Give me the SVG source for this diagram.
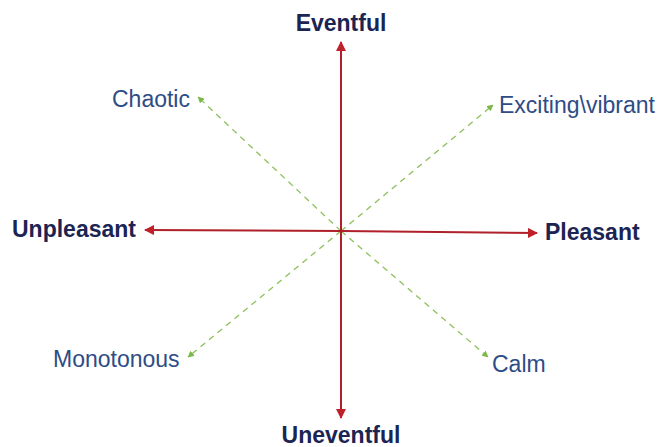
<svg xmlns="http://www.w3.org/2000/svg" width="659" height="447" viewBox="0 0 659 447">
<style>
.axis{stroke:#b0202a;stroke-width:2;fill:none}
.diag{stroke:#8cc05a;stroke-width:1.3;stroke-dasharray:6,5;fill:none}
.b{font-family:"Liberation Sans",Arial,sans-serif;font-weight:bold;font-size:23px;fill:#1b2452}
.n{font-family:"Liberation Sans",Arial,sans-serif;font-size:23px;fill:#2e4c86}
</style>
<defs>
<marker id="ar" viewBox="0 0 10 10" refX="9" refY="5" markerWidth="5" markerHeight="5" orient="auto-start-reverse" markerUnits="strokeWidth"><path d="M0,0 L10,5 L0,10 z" fill="#c0202a"/></marker>
<marker id="ag" viewBox="0 0 10 10" refX="9" refY="5" markerWidth="5" markerHeight="5" orient="auto-start-reverse" markerUnits="strokeWidth"><path d="M0,0 L10,5 L0,10 z" fill="#7cb84a"/></marker>
</defs>
<rect width="659" height="447" fill="#ffffff"/>
<g id="connectors">
<line class="diag" x1="341" y1="231" x2="198" y2="97" marker-end="url(#ag)"/>
<line class="diag" x1="341" y1="231" x2="493" y2="105" marker-end="url(#ag)"/>
<line class="diag" x1="341" y1="231" x2="188" y2="357" marker-end="url(#ag)"/>
<line class="diag" x1="341" y1="231" x2="488" y2="357" marker-end="url(#ag)"/>
<line class="axis" x1="341" y1="231" x2="341" y2="42" marker-end="url(#ar)"/>
<line class="axis" x1="341" y1="231" x2="341" y2="418" marker-end="url(#ar)"/>
<line class="axis" x1="341" y1="231" x2="145" y2="230" marker-end="url(#ar)"/>
<line class="axis" x1="341" y1="231" x2="537" y2="233" marker-end="url(#ar)"/>
</g>
<g id="eventful"><text class="b" x="341" y="31" text-anchor="middle">Eventful</text></g>
<g id="uneventful"><text class="b" x="341" y="443" text-anchor="middle">Uneventful</text></g>
<g id="unpleasant"><text class="b" x="12" y="237">Unpleasant</text></g>
<g id="pleasant"><text class="b" x="545" y="240">Pleasant</text></g>
<g id="chaotic"><text class="n" x="112" y="107">Chaotic</text></g>
<g id="exciting"><text class="n" x="499" y="113">Exciting\vibrant</text></g>
<g id="monotonous"><text class="n" x="53" y="367">Monotonous</text></g>
<g id="calm"><text class="n" x="492" y="372">Calm</text></g>
</svg>
